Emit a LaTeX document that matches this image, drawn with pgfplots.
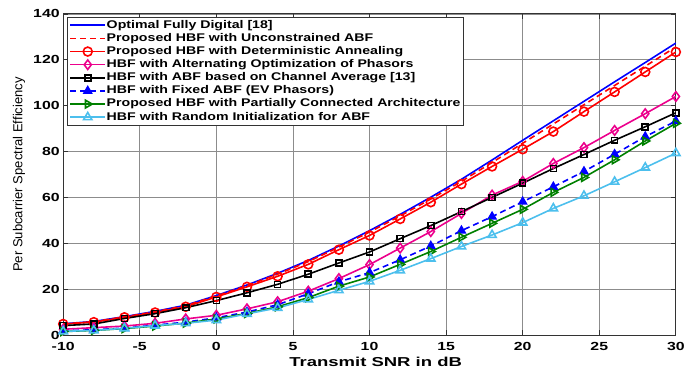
\documentclass[border=0pt]{standalone}
\usepackage{fontspec}
\usepackage{pgfplots}
\pgfplotsset{compat=1.18}
\setmainfont{Liberation Sans}
\newfontfamily\tickfont[FakeStretch=1.35]{Liberation Sans}
\newfontfamily\legfont[FakeStretch=1.27]{Liberation Sans}
\newfontfamily\xlabfont[FakeStretch=1.43]{Liberation Sans}
\definecolor{mlblue}{rgb}{0,0,1}
\definecolor{mlgreen}{rgb}{0,0.5,0}
\definecolor{mllight}{rgb}{0.30,0.75,0.93}
\begin{document}
\begin{tikzpicture}
\begin{axis}[
  scale only axis,
  width=615.8pt, height=322.7pt,
  xmin=-10, xmax=30, ymin=0, ymax=140,
  xtick={-10,-5,...,30}, ytick={0,20,...,140},
  grid=major,
  major grid style={color=black!45, line width=0.8pt},
  axis line style={color=black!80, line width=0.9pt},
  tick align=inside, major tick length=5pt,
  tick style={color=black!80, line width=0.8pt},
  /pgf/number format/assume math mode=true,
  ticklabel style={font=\tickfont\bfseries\fontsize{11.8}{13}\selectfont},
  xticklabel style={yshift=-4pt},
  xlabel={Transmit SNR in dB},
  xlabel style={font=\xlabfont\bfseries\fontsize{13}{15}\selectfont, at={(axis description cs:0.51,-0.068)}, anchor=north, inner sep=0pt},
  ylabel={Per Subcarrier Spectral Efficiency},
  ylabel style={font=\fontsize{13.1}{15}\selectfont, at={(axis description cs:-0.062,0.5)}, anchor=south, inner sep=0pt},
  legend cell align=left,
  legend style={at={(axis description cs:0.0068,0.99)}, anchor=north west,
    font=\legfont\bfseries\fontsize{11.2}{12}\selectfont,
    draw=black!80, inner xsep=2pt, inner ysep=1.5pt,
    nodes={inner sep=0.8pt, text height=8.6pt, text depth=2.8pt},
    row sep=0.2pt},
  legend image code/.code={\draw[mark repeat=2,mark phase=2] plot coordinates {(0pt,0pt) (17.5pt,0pt) (35pt,0pt)};},
  every axis plot/.append style={line width=1.6pt},
]
\addplot[color=mlblue, no marks] coordinates {
(-10,4.9) (-8,5.9) (-6,8.0) (-4,10.3) (-2,13.0) (0,17.2) (2,21.8) (4,26.9) (6,32.5) (8,38.8) (10,45.5) (12,52.6) (14,60.1) (16,67.9) (18,76.3) (20,84.9) (22,93.4) (24,101.9) (26,110.4) (28,118.8) (30,127.3)};
\addlegendentry{Optimal Fully Digital [18]}
\addplot[color=red, no marks, dash pattern=on 6pt off 4pt] coordinates {
(-10,4.8) (-8,5.8) (-6,7.9) (-4,10.1) (-2,12.8) (0,17.0) (2,21.5) (4,26.5) (6,32.0) (8,38.3) (10,44.9) (12,51.9) (14,59.3) (16,67.0) (18,75.2) (20,83.6) (22,92.0) (24,100.4) (26,108.8) (28,117.2) (30,125.6)};
\addlegendentry{Proposed HBF with Unconstrained ABF}
\addplot[color=red, mark=o, mark size=4.5pt, mark options={solid}] coordinates {
(-10,4.8) (-8,5.6) (-6,7.7) (-4,9.8) (-2,12.3) (0,16.6) (2,21.0) (4,25.6) (6,30.8) (8,37.2) (10,43.4) (12,50.6) (14,57.9) (16,65.8) (18,73.5) (20,81.0) (22,88.7) (24,97.4) (26,106.0) (28,114.7) (30,123.4)};
\addlegendentry{Proposed HBF with Deterministic Annealing}
\addplot[color=magenta, mark=diamond, mark size=4.8pt, mark options={solid}] coordinates {
(-10,2.5) (-8,3.2) (-6,3.9) (-4,5.1) (-2,7.0) (0,8.6) (2,11.4) (4,14.5) (6,19.1) (8,24.6) (10,30.7) (12,37.9) (14,45.1) (16,53.0) (18,61.0) (20,67.0) (22,74.8) (24,81.7) (26,89.2) (28,96.5) (30,104.0)};
\addlegendentry{HBF with Alternating Optimization of Phasors}
\addplot[color=black, mark=square, mark size=3pt, mark options={solid}] coordinates {
(-10,4.1) (-8,4.8) (-6,7.2) (-4,9.3) (-2,11.9) (0,15.0) (2,18.4) (4,22.1) (6,26.5) (8,31.4) (10,36.2) (12,42.0) (14,47.7) (16,53.8) (18,60.0) (20,66.2) (22,72.6) (24,78.7) (26,84.9) (28,90.8) (30,96.9)};
\addlegendentry{HBF with ABF based on Channel Average [13]}
\addplot[color=mlblue, dash pattern=on 6pt off 4pt, mark=triangle*, mark size=4.3pt, mark options={solid, fill=mlblue}] coordinates {
(-10,1.8) (-8,2.3) (-6,3.0) (-4,4.3) (-2,5.6) (0,7.5) (2,10.0) (4,13.2) (6,18.0) (8,23.2) (10,27.2) (12,32.8) (14,38.8) (16,45.5) (18,51.6) (20,58.1) (22,64.6) (24,71.3) (26,78.8) (28,86.5) (30,93.3)};
\addlegendentry{HBF with Fixed ABF (EV Phasors)}
\addplot[color=mlgreen, mark=triangle, mark size=4.5pt, mark options={solid, rotate=-90}] coordinates {
(-10,1.5) (-8,2.0) (-6,2.8) (-4,3.9) (-2,5.2) (0,7.0) (2,9.4) (4,12.3) (6,16.3) (8,21.3) (10,25.3) (12,30.8) (14,36.4) (16,42.6) (18,48.7) (20,54.8) (22,62.2) (24,68.7) (26,76.4) (28,84.6) (30,92.3)};
\addlegendentry{Proposed HBF with Partially Connected Architecture}
\addplot[color=mllight, mark=triangle, mark size=4.8pt, mark options={solid}] coordinates {
(-10,1.6) (-8,2.0) (-6,2.9) (-4,4.1) (-2,5.1) (0,6.5) (2,9.2) (4,11.8) (6,15.5) (8,19.5) (10,23.4) (12,28.2) (14,33.3) (16,38.6) (18,43.6) (20,49.0) (22,55.2) (24,60.7) (26,66.8) (28,73.0) (30,79.3)};
\addlegendentry{HBF with Random Initialization for ABF}
\end{axis}
\path (current axis.south west) ++(-63.5pt,-34.3pt) coordinate (bbA);
\path (current axis.north east) ++(8.7pt,14pt) coordinate (bbB);
\path[use as bounding box] (bbA) rectangle (bbB);
\end{tikzpicture}
\end{document}
